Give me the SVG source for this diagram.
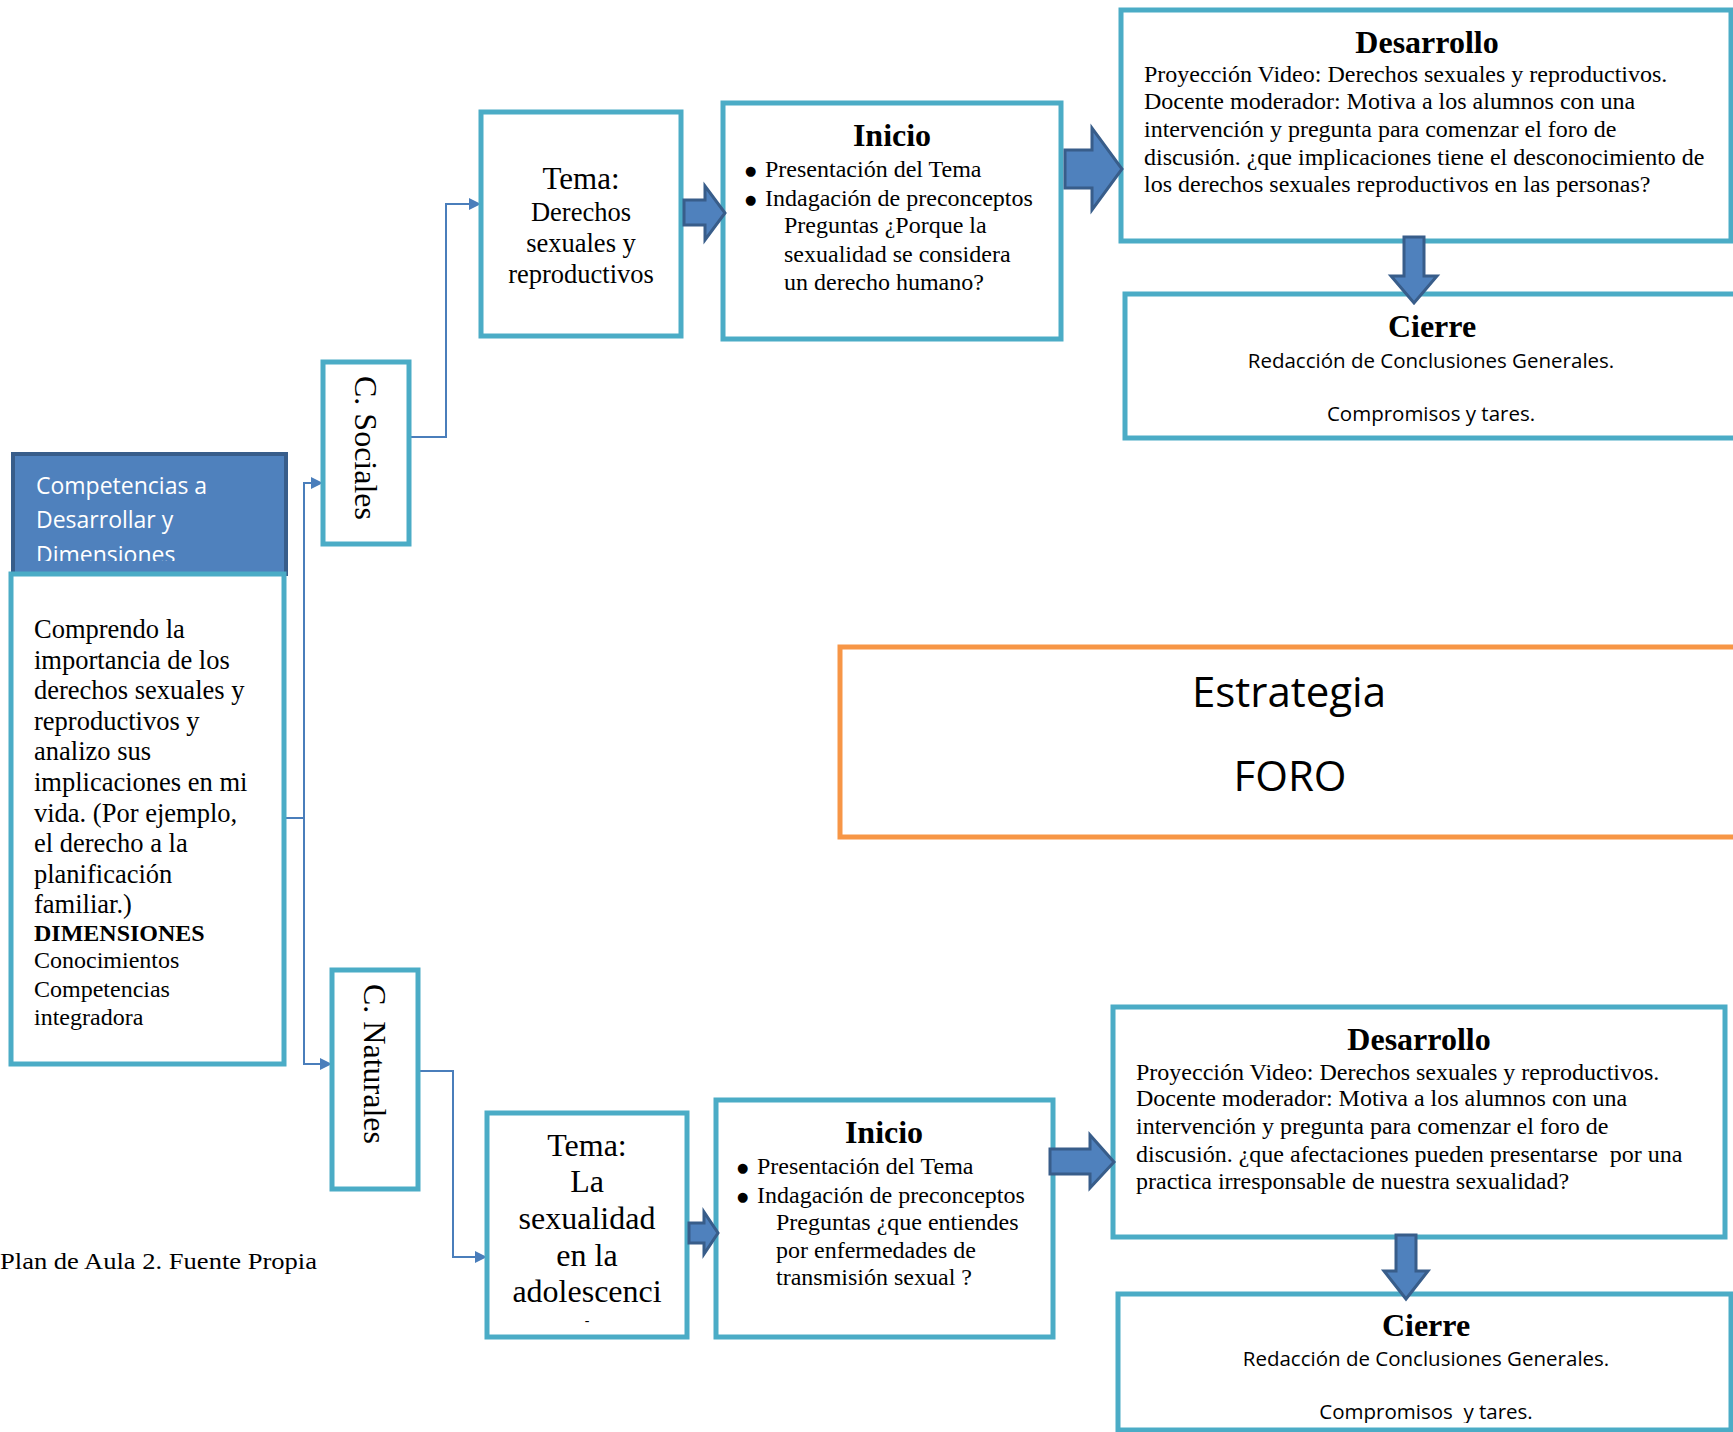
<svg xmlns="http://www.w3.org/2000/svg" width="1733" height="1432" viewBox="0 0 1733 1432">
<defs>
<style>
.box{fill:#fff;stroke:#4BACC6;stroke-width:5}
.hdr{fill:#4F81BD;stroke:#385D8A;stroke-width:4}
.orng{fill:#fff;stroke:#F79646;stroke-width:5}
.barrow{fill:#4F81BD;stroke:#385D8A;stroke-width:3;stroke-linejoin:miter}
.con{fill:none;stroke:#4A7EBB;stroke-width:2}
.serif{font-family:"Liberation Serif","Times New Roman",serif;fill:#000}
.sans{font-family:"Open Sans","Noto Sans",sans-serif;fill:#000}
.t24{font-size:24px}
.t26{font-size:26.5px}
.h{font-size:32px;font-weight:bold;text-anchor:middle}
.mid{text-anchor:middle}
.bul{font-family:"DejaVu Sans",sans-serif;font-size:13px;fill:#000}
</style>
<marker id="ah" markerUnits="userSpaceOnUse" markerWidth="12" markerHeight="12" refX="12" refY="6" orient="auto">
<path d="M0,0 L12,6 L0,12 z" fill="#4A7EBB"/>
</marker>
<clipPath id="hdrclip"><rect x="15" y="456" width="269" height="105"/></clipPath>
<clipPath id="cierre2clip"><rect x="1118" y="1294" width="615" height="129"/></clipPath>
</defs>
<rect width="1733" height="1432" fill="#fff"/>

<g id="connectors">
<polyline class="con" points="284,818 304,818"/>
<polyline class="con" points="304,818 304,483 323,483" marker-end="url(#ah)"/>
<polyline class="con" points="304,818 304,1064 332,1064" marker-end="url(#ah)"/>
<polyline class="con" points="409,437 446,437 446,204 481,204" marker-end="url(#ah)"/>
<polyline class="con" points="418,1071 453,1071 453,1257 487,1257" marker-end="url(#ah)"/>
</g>

<g id="competencias-header">
<rect class="hdr" x="13" y="454" width="273" height="120"/>
<g clip-path="url(#hdrclip)" font-family="Open Sans, Noto Sans, sans-serif" font-size="23" fill="#fff">
<text x="36" y="494">Competencias a</text>
<text x="36" y="528">Desarrollar y</text>
<text x="36" y="563">Dimensiones</text>
</g>
</g>

<g id="competencias-body">
<rect class="box" x="11" y="574" width="273" height="490"/>
<g class="serif t26">
<text x="34" y="638">Comprendo la</text>
<text x="34" y="668.6">importancia de los</text>
<text x="34" y="699.2">derechos sexuales y</text>
<text x="34" y="729.8">reproductivos y</text>
<text x="34" y="760.4">analizo sus</text>
<text x="34" y="791">implicaciones en mi</text>
<text x="34" y="821.6">vida. (Por ejemplo,</text>
<text x="34" y="852.2">el derecho a la</text>
<text x="34" y="882.8">planificación</text>
<text x="34" y="913.4">familiar.)</text>
</g>
<g class="serif t24">
<text x="34" y="940.5" font-weight="bold">DIMENSIONES</text>
<text x="34" y="968">Conocimientos</text>
<text x="34" y="997">Competencias</text>
<text x="34" y="1024.5">integradora</text>
</g>
</g>

<g id="c-sociales">
<rect class="box" x="323" y="362" width="86" height="182"/>
<text class="serif" font-size="32" transform="translate(355,376) rotate(90)">C. Sociales</text>
</g>

<g id="c-naturales">
<rect class="box" x="332" y="970" width="86" height="219"/>
<text class="serif" font-size="32" transform="translate(364,984) rotate(90)">C. Naturales</text>
</g>

<g id="tema1">
<rect class="box" x="481" y="112" width="200" height="224"/>
<text class="serif mid" font-size="31" x="581" y="189">Tema:</text>
<g class="serif t26 mid">
<text x="581" y="221">Derechos</text>
<text x="581" y="252">sexuales y</text>
<text x="581" y="283">reproductivos</text>
</g>
</g>

<g id="inicio1">
<rect class="box" x="723" y="103" width="338" height="236"/>
<text class="serif h" x="892" y="146">Inicio</text>
<text class="bul" x="745" y="175">●</text>
<text class="bul" x="745" y="203.5">●</text>
<g class="serif t24">
<text x="765" y="177">Presentación del Tema</text>
<text x="765" y="205.5">Indagación de preconceptos</text>
<text x="784" y="233">Preguntas ¿Porque la</text>
<text x="784" y="262">sexualidad se considera</text>
<text x="784" y="289.5">un derecho humano?</text>
</g>
</g>

<g id="desarrollo1">
<rect class="box" x="1121" y="10" width="610" height="231"/>
<text class="serif h" x="1427" y="53">Desarrollo</text>
<g class="serif t24">
<text x="1144" y="82">Proyección Video: Derechos sexuales y reproductivos.</text>
<text x="1144" y="109">Docente moderador: Motiva a los alumnos con una</text>
<text x="1144" y="137">intervención y pregunta para comenzar el foro de</text>
<text x="1144" y="165">discusión. ¿que implicaciones tiene el desconocimiento de</text>
<text x="1144" y="192">los derechos sexuales reproductivos en las personas?</text>
</g>
</g>

<g id="cierre1">
<rect class="box" x="1125" y="294" width="620" height="144"/>
<text class="serif h" x="1432" y="337">Cierre</text>
<g class="sans mid" font-size="20.5">
<text x="1431" y="368">Redacción de Conclusiones Generales.</text>
<text x="1431" y="421">Compromisos y tares.</text>
</g>
</g>

<g id="estrategia">
<rect class="orng" x="840" y="647" width="905" height="190"/>
<g class="sans mid" font-size="42">
<text x="1289" y="707">Estrategia</text>
<text x="1290" y="791">FORO</text>
</g>
</g>

<g id="tema2">
<rect class="box" x="487" y="1113" width="200" height="224"/>
<g class="serif mid" font-size="32">
<text x="587" y="1156">Tema:</text>
<text x="587" y="1192">La</text>
<text x="587" y="1229">sexualidad</text>
<text x="587" y="1265.5">en la</text>
<text x="587" y="1302">adolescenci</text>
</g>
<text class="serif mid" font-size="14" x="587" y="1325">-</text>
</g>

<g id="inicio2">
<rect class="box" x="716" y="1100" width="337" height="237"/>
<text class="serif h" x="884" y="1143">Inicio</text>
<text class="bul" x="737" y="1172">●</text>
<text class="bul" x="737" y="1200.5">●</text>
<g class="serif t24">
<text x="757" y="1174">Presentación del Tema</text>
<text x="757" y="1202.5">Indagación de preconceptos</text>
<text x="776" y="1230">Preguntas ¿que entiendes</text>
<text x="776" y="1258">por enfermedades de</text>
<text x="776" y="1285">transmisión sexual ?</text>
</g>
</g>

<g id="desarrollo2">
<rect class="box" x="1113" y="1007" width="612" height="230"/>
<text class="serif h" x="1419" y="1050">Desarrollo</text>
<g class="serif t24">
<text x="1136" y="1080">Proyección Video: Derechos sexuales y reproductivos.</text>
<text x="1136" y="1106">Docente moderador: Motiva a los alumnos con una</text>
<text x="1136" y="1134">intervención y pregunta para comenzar el foro de</text>
<text x="1136" y="1161.6" xml:space="preserve">discusión. ¿que afectaciones pueden presentarse  por una</text>
<text x="1136" y="1189">practica irresponsable de nuestra sexualidad?</text>
</g>
</g>

<g id="cierre2">
<rect class="box" x="1118" y="1294" width="613" height="136"/>
<text class="serif h" x="1426" y="1336">Cierre</text>
<g class="sans mid" font-size="20.5" clip-path="url(#cierre2clip)">
<text x="1426" y="1366">Redacción de Conclusiones Generales.</text>
<text x="1426" y="1419" xml:space="preserve">Compromisos  y tares.</text>
</g>
</g>

<g id="block-arrows">
<polygon class="barrow" points="684,200 705,200 705,186 725,213 705,240 705,225 684,225"/>
<polygon class="barrow" points="1065,150 1092,150 1092,128 1122,169 1092,210 1092,188 1065,188"/>
<polygon class="barrow" points="1404,237 1424,237 1424,276 1437,276 1414,303 1391,276 1404,276"/>
<polygon class="barrow" points="689,1223 704,1223 704,1212 718,1233 704,1254 704,1243 689,1243"/>
<polygon class="barrow" points="1050,1149 1090,1149 1090,1135 1114,1162 1090,1188 1090,1174 1050,1174"/>
<polygon class="barrow" points="1396,1235 1416,1235 1416,1271 1428,1271 1406,1299 1384,1271 1396,1271"/>
</g>

<g id="caption">
<text class="serif" font-size="24" x="0" y="1269" textLength="317" lengthAdjust="spacingAndGlyphs">Plan de Aula 2. Fuente Propia</text>
</g>
</svg>
